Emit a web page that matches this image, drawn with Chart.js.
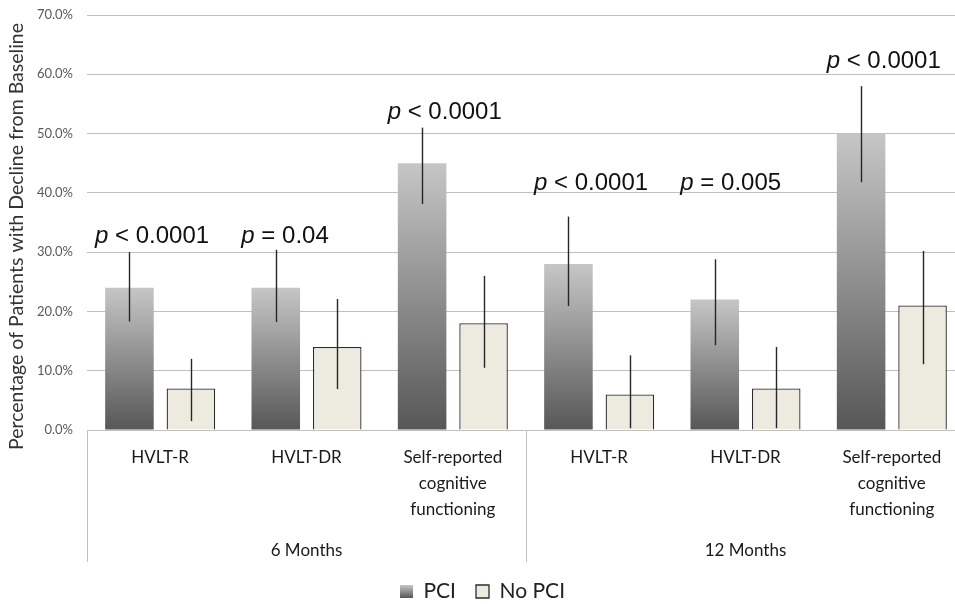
<!DOCTYPE html>
<html><head><meta charset="utf-8">
<script src="https://cdn.jsdelivr.net/npm/chart.js@4"></script>
<style>html,body{margin:0;padding:0;background:#fff;overflow:hidden}#wrap{width:975px;height:604px;position:relative}</style>
</head><body><div id="wrap"><canvas id="c"></canvas></div>
<script>
const categories = [['HVLT-R'],['HVLT-DR'],['Self-reported','cognitive','functioning'],['HVLT-R'],['HVLT-DR'],['Self-reported','cognitive','functioning']];
const groups = ['6 Months','12 Months'];
const seriesNames = ['PCI','No PCI'];
const pciValues = [24,24,45,28,22,50];
const pciErrLow = [18.3,18.2,38.1,20.9,14.3,41.8];
const pciErrHigh = [30,30.4,51,36,28.8,58];
const noPciValues = [7,14,18,6,7,21];
const noPciErrLow = [1.5,6.9,10.5,0.3,0.3,11.1];
const noPciErrHigh = [12,22.1,26,12.6,14,30.2];
const pSymbols = ['<','=','<','<','=','<'];
const pNumbers = ['0.0001','0.04','0.0001','0.0001','0.005','0.0001'];
const pLabelLevel = [31.5,31.5,52.4,40.5,40.5,61.0];
const yTicks = [0,10,20,30,40,50,60,70];
const yTitle = 'Percentage of Patients with Decline from Baseline';

const GRID = '#c0c0c0';
function makeGrad(ctx, top, base){
  const g = ctx.createLinearGradient(0, top, 0, base);
  g.addColorStop(0,'#c6c6c6'); g.addColorStop(1,'#575757');
  return g;
}
function pciGradient(c){
  const chart = c.chart;
  if(!chart.chartArea || c.type!=='data') return '#909090';
  const y = chart.scales.y;
  const top = y.getPixelForValue(c.raw), base = y.getPixelForValue(0);
  if(!isFinite(top) || !isFinite(base) || top===base) return '#909090';
  return makeGrad(chart.ctx, top, base);
}

const extras = {
  id:'extras',
  beforeDraw(chart){
    const lg = chart.legend;
    if(lg && lg.legendItems && lg.legendHitBoxes && lg.legendHitBoxes[0]){
      const hb = lg.legendHitBoxes[0];
      const bh = 13;
      const t = hb.top + (hb.height - bh)/2;
      lg.legendItems[0].fillStyle = makeGrad(chart.ctx, t, t+bh);
    }
  },
  afterDatasetsDraw(chart){
    const ctx = chart.ctx, y = chart.scales.y;
    const lows = [pciErrLow, noPciErrLow], highs = [pciErrHigh, noPciErrHigh];
    ctx.save();
    ctx.strokeStyle = '#262626'; ctx.lineWidth = 1.4;
    for(let d=0; d<2; d++){
      const meta = chart.getDatasetMeta(d);
      meta.data.forEach((bar,i)=>{
        const x = Math.round(bar.x)+0.5;
        ctx.beginPath();
        ctx.moveTo(x, y.getPixelForValue(highs[d][i]));
        ctx.lineTo(x, y.getPixelForValue(lows[d][i]));
        ctx.stroke();
      });
    }
    ctx.restore();
  },
  afterDraw(chart){
    const ctx = chart.ctx, x = chart.scales.x, y = chart.scales.y, area = chart.chartArea;
    const half = (x.getPixelForValue(1) - x.getPixelForValue(0))/2;
    ctx.save();
    ctx.strokeStyle = GRID; ctx.lineWidth = 1;
    [-0.5, 2.5, 5.5].forEach(v=>{
      const px = Math.round(x.getPixelForValue(0) + (v)*half*2) + 0.5;
      ctx.beginPath(); ctx.moveTo(px, area.bottom); ctx.lineTo(px, 562); ctx.stroke();
    });
    ctx.fillStyle = '#111'; ctx.textBaseline = 'alphabetic'; ctx.textAlign = 'left';
    categories.forEach((c,i)=>{
      let px = x.getPixelForValue(i) - half + 8;
      const py = y.getPixelForValue(pLabelLevel[i]);
      ctx.font = 'italic 24px "Liberation Sans", Arial, sans-serif';
      ctx.fillText('p', px, py);
      px += ctx.measureText('p').width;
      ctx.font = '24px "Liberation Sans", Arial, sans-serif';
      ctx.fillText(' ' + pSymbols[i] + ' ' + pNumbers[i], px, py);
    });
    ctx.translate(17, (area.top + area.bottom)/2 + 14);
    ctx.rotate(-Math.PI/2);
    ctx.font = '19.5px Lato, sans-serif';
    ctx.fillStyle = '#333'; ctx.textAlign = 'center'; ctx.textBaseline = 'middle';
    ctx.fillText(yTitle, 0, 0);
    ctx.restore();
  }
};

new Chart(document.getElementById('c'), {
  type:'bar',
  data:{
    labels: categories,
    datasets:[
      {label: seriesNames[0], data: pciValues, backgroundColor: pciGradient, borderWidth:0,
       barPercentage:0.79, categoryPercentage:0.84},
      {label: seriesNames[1], data: noPciValues, backgroundColor:'#edeadf', borderColor:'#2b2b2b', borderWidth:1.3,
       barPercentage:0.79, categoryPercentage:0.84}
    ]
  },
  options:{
    responsive:true, maintainAspectRatio:false, animation:false,
    layout:{padding:{top:15, right:10, left:0, bottom:-8}},
    plugins:{
      tooltip:{enabled:false},
      legend:{position:'bottom', labels:{boxWidth:13, boxHeight:13, padding:20, color:'#222',
        font:{family:'Lato, sans-serif', size:21}}}
    },
    scales:{
      x:{
        grid:{display:false}, border:{display:false},
        ticks:{color:'#1a1a1a', font:{family:'Lato, sans-serif', size:17, lineHeight:1.55}, padding:6, maxRotation:0, autoSkip:false},
        afterFit(s){ s.height = 100; s.paddingLeft = 0; s.paddingRight = 0; }
      },
      x2:{
        type:'category', labels: groups, offset:true, position:'bottom',
        grid:{display:false}, border:{display:false},
        ticks:{color:'#1a1a1a', font:{family:'Lato, sans-serif', size:17, lineHeight:1.2}, padding:2, maxRotation:0},
        afterFit(s){ s.height = 31; s.paddingLeft = 0; s.paddingRight = 0; }
      },
      y:{
        min:0, max:70,
        afterBuildTicks(s){ s.ticks = yTicks.map(v=>({value:v})); },
        grid:{color:GRID, drawTicks:false}, border:{display:false},
        ticks:{color:'#595959', font:{family:'Lato, sans-serif', size:13}, padding:14, callback:v=>v.toFixed(1)+'%'},
        afterFit(s){ s.width = 87; s.paddingTop = 0; s.paddingBottom = 0; }
      }
    }
  },
  plugins:[extras]
});
</script></body></html>
